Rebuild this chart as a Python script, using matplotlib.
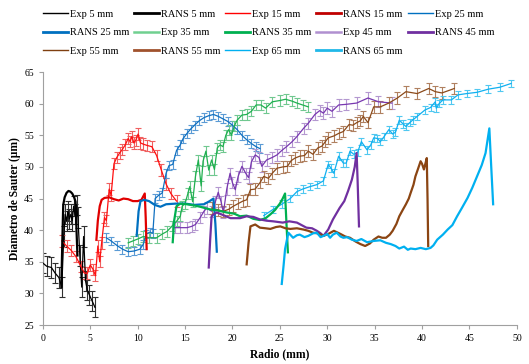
import matplotlib
matplotlib.use("Agg")
import matplotlib.pyplot as plt
from matplotlib.lines import Line2D

plt.rcParams['font.family'] = ['Liberation Serif', 'DejaVu Serif']

# ---- data (radio mm, diametro um) ----
exp5_r = [0.0, 0.4, 0.9, 1.3, 1.7, 2.0, 2.2, 2.35, 2.5, 2.65, 2.8, 2.95, 3.1, 3.25, 3.4,
          3.55, 3.7, 3.9, 4.1, 4.3, 4.5, 4.7, 4.9, 5.2, 5.5]
exp5_d = [34.8, 34.3, 34.1, 33.2, 32.5, 31.0, 39.0, 42.5, 41.5, 43.0, 41.8, 42.5, 41.5, 43.8, 42.5,
          44.0, 42.0, 36.0, 31.0, 39.0, 32.0, 30.5, 29.8, 28.8, 27.8]
rans5_r = [1.95, 2.05, 2.15, 2.3, 2.5, 2.7, 2.9, 3.1, 3.3, 3.45, 3.55, 3.65]
rans5_d = [31.0, 38.0, 44.0, 45.2, 45.9, 46.2, 46.1, 45.8, 45.2, 44.5, 40.0, 36.0]

exp15_r = [2.0, 2.5, 3.0, 3.5, 4.0, 4.4, 4.7, 5.0, 5.3, 5.55, 5.8, 6.0, 6.2, 6.5, 6.7, 7.0, 7.2,
           7.5, 7.8, 8.1, 8.4, 8.7, 9.0, 9.2, 9.4, 9.6, 9.8, 10.05, 10.3, 10.6, 11.0, 11.5, 12.0,
           12.5, 13.0, 13.5, 14.1]
exp15_d = [38.3, 37.5, 36.8, 35.8, 34.3, 33.2, 33.2, 34.5, 33.8, 32.8, 37.5, 35.0, 38.0, 42.0, 41.5,
           46.5, 45.5, 50.5, 51.5, 52.2, 52.8, 53.5, 54.5, 54.0, 54.8, 53.8, 54.2, 55.2, 53.8, 53.6,
           53.4, 53.2, 51.8, 49.5, 47.3, 45.8, 44.6]
rans15_r = [5.65, 5.8, 6.0, 6.2, 6.5, 7.0, 7.5, 8.0, 8.5, 9.0, 9.5, 10.0, 10.4, 10.75, 10.85, 10.95]
rans15_d = [38.5, 41.5, 43.8, 44.8, 45.1, 45.2, 44.9, 44.7, 45.0, 44.9, 44.6, 44.6, 44.8, 45.8, 42.0, 37.0]

exp25_r = [6.7, 7.2, 7.8, 8.4, 9.0, 9.6, 10.25, 10.6, 10.9, 11.3, 11.6, 11.85, 12.2, 12.6, 13.0,
           13.3, 13.7, 14.1, 14.5, 14.8, 15.2, 15.6, 16.0, 16.5, 17.0, 17.5, 18.0, 18.5, 19.0, 19.5,
           20.0, 20.5, 21.0, 21.5, 22.0, 22.5, 22.9]
exp25_d = [38.8, 38.3, 37.6, 37.0, 36.6, 36.7, 37.0, 37.8, 39.4, 39.7, 39.5, 45.0, 45.5, 45.9, 49.0,
           50.2, 50.4, 52.6, 53.5, 54.5, 55.3, 56.0, 56.6, 57.3, 57.8, 58.1, 58.3, 58.0, 57.6, 57.2,
           56.6, 55.9, 55.0, 54.3, 53.7, 53.2, 52.9]
rans25_r = [9.9, 10.1, 10.3, 10.7, 11.2, 11.8, 12.4, 13.0, 14.0, 15.0, 16.0, 17.0, 17.6, 18.0, 18.2, 18.35]
rans25_d = [39.1, 43.0, 44.6, 44.8, 44.6, 44.0, 43.7, 44.1, 44.2, 44.2, 44.0, 44.1, 44.6, 45.0, 41.0, 36.6]

exp35_r = [9.0, 9.5, 10.0, 10.6, 11.2, 12.0, 12.6, 13.1, 13.6, 14.1, 14.5, 14.7, 15.0, 15.3, 15.5,
           15.8, 16.1, 16.4, 16.7, 16.9, 17.2, 17.5, 17.8, 18.1, 18.4, 18.7, 19.0, 19.3, 19.6, 19.9,
           20.2, 20.5, 21.0, 21.5, 22.0, 22.5, 23.0, 23.5, 24.2, 25.0, 25.6, 26.3, 26.8, 27.4, 28.0]
exp35_d = [38.0, 38.3, 38.6, 39.0, 38.8, 38.8, 39.4, 39.8, 40.6, 41.4, 42.2, 43.8, 44.2, 45.8, 46.9,
           44.5, 48.5, 51.1, 47.0, 50.9, 52.5, 49.5, 51.1, 49.6, 53.0, 53.5, 53.2, 55.0, 55.9, 55.0,
           56.5, 57.4, 58.2, 58.3, 58.8, 59.8, 59.8, 59.3, 60.3, 60.5, 60.7, 60.4, 60.1, 59.8, 59.5]
rans35_r = [13.7, 13.85, 14.1, 14.5, 15.2, 16.0, 16.6, 17.6, 18.5, 19.4, 20.2, 20.8, 21.5, 22.2,
            22.9, 23.5, 24.0, 24.5, 25.0, 25.3, 25.55, 25.7, 25.85]
rans35_d = [38.1, 41.5, 43.8, 44.2, 44.1, 43.9, 43.7, 43.3, 43.1, 42.8, 42.6, 42.2, 42.3, 41.8,
            41.6, 41.9, 42.5, 43.2, 44.2, 45.0, 45.8, 41.0, 36.5]

exp45_r = [13.9, 14.5, 15.2, 15.7, 16.1, 16.6, 17.0, 17.3, 17.8, 18.2, 18.5, 18.8, 19.05, 19.4,
           19.75, 20.0, 20.3, 20.6, 21.0, 21.4, 21.7, 22.0, 22.4, 22.8, 23.1, 23.6, 24.2, 24.7,
           25.2, 25.7, 26.3, 26.8, 27.5, 28.0, 28.7, 29.2, 29.6, 30.0, 30.5, 31.2, 32.0, 33.1,
           34.3, 35.4, 36.8]
exp45_d = [40.4, 40.4, 40.4, 40.6, 40.9, 42.0, 43.0, 43.5, 43.0, 44.5, 46.0, 44.5, 42.8, 46.5,
           49.0, 47.5, 46.4, 48.5, 50.1, 49.0, 48.3, 50.8, 51.9, 51.5, 50.1, 51.1, 51.5, 51.9,
           52.6, 53.2, 54.0, 54.8, 56.1, 56.9, 58.3, 58.9, 58.5, 59.3, 58.8, 59.8, 59.9, 60.1,
           60.9, 60.3, 60.1]
rans45_r = [17.5, 17.65, 17.8, 18.0, 18.35, 19.0, 19.8, 20.8, 21.5, 22.2, 22.9, 23.6, 24.3, 25.3,
            26.0, 26.8, 27.3, 27.8, 28.4, 28.9, 29.3, 29.6, 30.1, 30.6, 31.3, 31.8, 32.2, 32.6,
            32.9, 33.1, 33.2, 33.35]
rans45_d = [34.1, 38.5, 42.2, 42.5, 42.8, 42.4, 41.9, 41.9, 42.2, 42.1, 41.7, 41.5, 41.4, 41.2,
            41.4, 41.2, 40.8, 40.4, 40.3, 39.9, 39.5, 39.1, 40.1, 41.7, 43.5, 44.6, 46.2, 48.0,
            50.0, 52.2, 48.0, 40.6]

exp55_r = [17.8, 18.5, 19.05, 19.6, 20.1, 20.6, 21.1, 21.5, 21.9, 22.4, 22.9, 23.3, 23.8, 24.2,
           24.7, 25.3, 25.8, 26.2, 26.6, 27.1, 27.6, 28.0, 28.5, 29.0, 29.45, 29.8, 30.1, 30.7,
           31.2, 31.7, 32.3, 32.7, 33.1, 33.5, 33.8, 34.3, 34.9, 35.6, 36.5, 37.4, 38.3, 39.5,
           40.7, 41.4, 42.1, 43.4]
exp55_d = [43.5, 43.2, 43.0, 43.3, 43.8, 44.2, 44.6, 44.8, 46.4, 46.5, 47.5, 48.5, 48.2, 49.0,
           49.8, 50.0, 50.1, 51.0, 51.4, 51.7, 51.8, 52.5, 52.0, 53.0, 53.3, 54.0, 54.6, 54.9,
           55.3, 55.6, 56.7, 56.6, 57.0, 57.3, 58.0, 57.0, 59.5, 59.5, 60.1, 60.9, 61.9, 61.6,
           62.4, 61.9, 61.7, 62.4]
rans55_r = [21.5, 21.7, 21.9, 22.4, 22.9, 23.5, 24.0, 24.6, 25.05, 25.6, 26.1, 26.8, 27.5, 28.0,
            28.5, 29.0, 29.6, 30.1, 30.7, 31.4, 31.9, 32.4, 33.0, 33.5, 34.0, 34.5, 34.9, 35.4,
            35.8, 36.2, 36.6, 36.9, 37.3, 37.6, 38.0, 38.3, 38.6, 38.8, 39.1, 39.3, 39.6, 39.85,
            40.0, 40.2, 40.35, 40.5, 40.58, 40.65]
rans55_d = [34.6, 38.0, 40.6, 40.9, 40.4, 40.3, 40.2, 40.5, 40.6, 40.3, 40.2, 40.3, 40.1, 39.9,
            39.6, 39.5, 39.1, 39.4, 39.9, 39.4, 39.0, 38.8, 38.2, 37.8, 37.5, 37.9, 38.5, 39.0,
            38.8, 38.8, 39.3, 39.9, 41.0, 42.2, 43.3, 44.1, 45.0, 45.9, 47.2, 48.5, 49.8, 50.9,
            50.5, 49.6, 50.5, 51.4, 45.0, 37.5]

exp65_r = [23.3, 24.3, 25.2, 26.1, 26.8, 27.4, 28.2, 28.9, 29.6, 30.1, 30.4, 30.7, 31.2, 31.7,
           32.0, 32.4, 32.8, 33.2, 33.6, 34.2, 34.6, 34.9, 35.3, 35.6, 36.0, 36.5, 36.9, 37.2,
           37.6, 38.0, 38.3, 38.7, 39.0, 39.5, 40.3, 40.9, 41.4, 41.5, 41.8, 42.2, 43.1, 43.8,
           44.7, 45.8, 47.0, 48.2, 49.4]
exp65_d = [42.3, 43.3, 44.1, 45.0, 46.1, 46.5, 46.9, 47.2, 47.8, 50.4, 49.8, 49.0, 51.7, 50.6,
           50.6, 52.5, 52.0, 52.3, 54.0, 52.7, 53.5, 54.6, 54.5, 54.0, 54.8, 55.9, 55.2, 55.5,
           57.4, 56.8, 56.4, 57.0, 57.4, 58.0, 59.0, 59.4, 60.3, 59.3, 60.0, 60.6, 60.6, 61.4,
           61.6, 61.8, 62.3, 62.6, 63.2]
rans65_r = [25.2, 25.4, 25.55, 25.75, 25.9, 26.4, 26.8, 27.1, 27.6, 28.0, 28.5, 28.9, 29.3, 29.6,
            30.0, 30.3, 30.6, 31.0, 31.4, 31.7, 32.1, 32.6, 33.1, 33.6, 34.2, 34.9, 35.6, 36.2,
            36.7, 37.2, 37.6, 38.1, 38.5, 38.8, 39.3, 39.85, 40.4, 40.9, 41.2, 41.6, 42.2, 42.7,
            43.2, 43.7, 44.2, 44.8, 45.3, 45.8, 46.3, 46.7, 47.1, 47.3, 47.5]
rans65_d = [31.5, 34.5, 37.0, 38.5, 39.6, 38.8, 39.2, 39.3, 38.9, 39.1, 39.5, 39.6, 38.9, 39.1,
            39.4, 38.8, 39.3, 39.6, 39.0, 38.8, 38.9, 38.5, 38.3, 38.6, 38.1, 38.3, 38.4, 38.0,
            37.8, 37.5, 37.1, 37.4, 36.9, 37.1, 37.0, 37.2, 37.0, 37.2, 37.6, 38.5, 39.3, 40.1,
            40.8, 42.2, 43.5, 45.1, 46.7, 48.5, 50.3, 52.2, 56.1, 50.0, 44.1]

# error bar half-widths (um), one per experimental series
exp_err = {5: 1.6, 15: 0.9, 25: 0.7, 35: 0.8, 45: 0.9, 55: 0.9, 65: 0.6}

# (dist, exp r, exp d, rans r, rans d, exp line, exp bars, rans line, legend exp, legend rans)
series = [
    (5, exp5_r, exp5_d, rans5_r, rans5_d, '#000000', '#303030', '#000000', '#000000', '#000000'),
    (15, exp15_r, exp15_d, rans15_r, rans15_d, '#FF1010', '#F06060', '#E00000', '#FF0000', '#C00000'),
    (25, exp25_r, exp25_d, rans25_r, rans25_d, '#1070C0', '#5B9BD5', '#0070C0', '#0070C0', '#0070C0'),
    (35, exp35_r, exp35_d, rans35_r, rans35_d, '#20B050', '#70C890', '#00B050', '#70D090', '#00B050'),
    (45, exp45_r, exp45_d, rans45_r, rans45_d, '#7838B0', '#B498D0', '#7030A0', '#B090D0', '#7030A0'),
    (55, exp55_r, exp55_d, rans55_r, rans55_d, '#8B4A1A', '#B08060', '#8B4513', '#7F3F10', '#A0522D'),
    (65, exp65_r, exp65_d, rans65_r, rans65_d, '#10B0F0', '#50C8F0', '#00B0F0', '#00B0F0', '#20B8E8'),
]

fig = plt.figure(figsize=(5.29, 3.64), dpi=100)
ax = fig.add_axes([0.081, 0.107, 0.896, 0.695])

handles = {}
for dist, er, ed, rr, rd, c_exp, c_bar, c_rans, l_exp, l_rans in series:
    ax.errorbar(er, ed, yerr=exp_err[dist], fmt='none', ecolor=c_bar, elinewidth=0.8,
                capsize=2.2, capthick=0.8, zorder=2)
    ax.plot(er, ed, color=c_exp, lw=0.9, zorder=3)
    ax.plot(rr, rd, color=c_rans, lw=1.6, zorder=4)
    handles['Exp %d mm' % dist] = Line2D([], [], color=l_exp, lw=1.0 if dist not in (35, 45) else 1.8)
    handles['RANS %d mm' % dist] = Line2D([], [], color=l_rans, lw=2.0)

# legend is filled column by column, so order the entries to read row by row
order = ['Exp 5 mm', 'RANS 25 mm', 'Exp 55 mm',
         'RANS 5 mm', 'Exp 35 mm', 'RANS 55 mm',
         'Exp 15 mm', 'RANS 35 mm', 'Exp 65 mm',
         'RANS 15 mm', 'Exp 45 mm', 'RANS 65 mm',
         'Exp 25 mm', 'RANS 45 mm']
fig.legend([handles[k] for k in order], order, ncol=5, loc='upper left',
           bbox_to_anchor=(0.081, 0.974), frameon=False, fontsize=7.5,
           borderpad=0, borderaxespad=0,
           handlelength=2.4, handletextpad=0.2, columnspacing=0.45, labelspacing=0.9)

ax.set_xlim(0, 50)
ax.set_ylim(25, 65)
ax.set_xticks(range(0, 51, 5))
ax.set_yticks(range(25, 66, 5))
ax.tick_params(labelsize=7, length=3, color='#A0A0A0', width=0.8)
for s in ['top', 'right']:
    ax.spines[s].set_visible(False)
for s in ['left', 'bottom']:
    ax.spines[s].set_color('#A0A0A0')
    ax.spines[s].set_linewidth(0.8)

ax.set_xlabel('Radio (mm)', fontsize=8.3, fontweight='bold', labelpad=4)
ax.set_ylabel('Diametro de Sauter (\u00b5m)', fontsize=8.3, fontweight='bold', labelpad=2)

fig.savefig('out.png', dpi=100)
